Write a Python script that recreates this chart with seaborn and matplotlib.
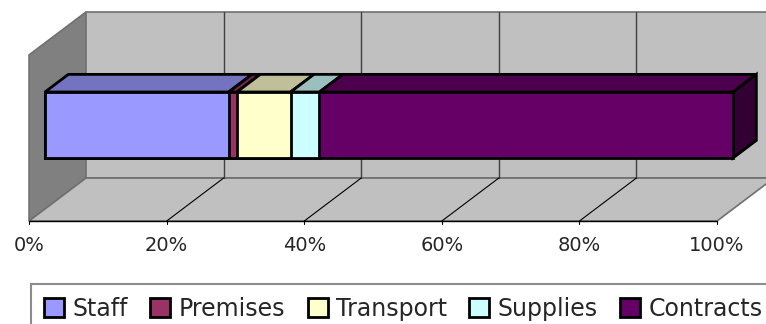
import matplotlib
matplotlib.use("Agg")
import matplotlib.pyplot as plt
import matplotlib.colors as mcolors
from matplotlib.patches import Polygon, Patch
import pandas as pd
import seaborn as sns

categories = ["Staff", "Premises", "Transport", "Supplies", "Contracts"]
shares = [26.7, 1.2, 7.8, 4.2, 60.1]
colors = ["#9999ff", "#993366", "#ffffcc", "#ccffff", "#660066"]
tick_values = [0, 20, 40, 60, 80, 100]
tick_labels = ["0%", "20%", "40%", "60%", "80%", "100%"]

# oblique projection: x in %, y in bar units, depth 0..1 across the box
DX, DY = 8.28, -0.521
B0, B1 = 0.28, 0.69        # bar front / back depth
FLOOR, TOP = 1.018, -0.995


def proj(x, y, d):
    return (x + (d - B0) * DX, y + (d - B0) * DY)


def shade(c, f):
    r, g, b = mcolors.to_rgb(c)
    return (r * f, g * f, b * f)


def face(ax, pts, fc, ec="#707070", lw=1.2, z=0):
    ax.add_patch(Polygon(pts, closed=True, facecolor=fc, edgecolor=ec, lw=lw, zorder=z))


df = pd.DataFrame({"category": categories, "share": shares, "color": colors})
df["pct"] = df["share"] / df["share"].sum() * 100
df["end"] = df["pct"].cumsum()
df["start"] = df["end"] - df["pct"]

sns.set_style("white")
plt.rcParams["font.family"] = ["DejaVu Sans"]

fig = plt.figure(figsize=(7.66, 3.24), dpi=100)
ax = fig.add_axes([0, 0, 1, 1])

# walls and floor
face(ax, [proj(0, FLOOR, 0), proj(0, TOP, 0), proj(0, TOP, 1), proj(0, FLOOR, 1)], "#808080")
face(ax, [proj(0, FLOOR, 1), proj(0, TOP, 1), proj(100, TOP, 1), proj(100, FLOOR, 1)], "#c0c0c0")
face(ax, [proj(0, FLOOR, 0), proj(100, FLOOR, 0), proj(100, FLOOR, 1), proj(0, FLOOR, 1)], "#c0c0c0")

for v in tick_values[1:]:
    x0, y0 = proj(v, FLOOR, 1)
    x1, y1 = proj(v, TOP, 1)
    ax.plot([x0, x1], [y0, y1], color="#404040", lw=1, zorder=0.5)
for v in tick_values[1:-1]:
    x0, y0 = proj(v, FLOOR, 0)
    x1, y1 = proj(v, FLOOR, 1)
    ax.plot([x0, x1], [y0, y1], color="black", lw=0.8, zorder=0.5)

# front edge of the floor with tick labels
fx0, fy = proj(0, FLOOR, 0)
fx1, _ = proj(100, FLOOR, 0)
ax.plot([fx0, fx1], [fy, fy], color="black", lw=1, zorder=0.6)
for v, lab in zip(tick_values, tick_labels):
    x, y = proj(v, FLOOR, 0)
    ax.plot([x, x], [y, y + 0.04], color="black", lw=0.8)
    ax.text(x, y + 0.3, lab, ha="center", va="center", fontsize=14)

# front faces: cumulative bars drawn back to front
for _, row in df.iloc[::-1].iterrows():
    sns.barplot(x=[row["end"]], y=["Costs"], orient="h", color=row["color"],
                saturation=1, width=0.8, edgecolor="black", linewidth=2, ax=ax, zorder=2)

# top faces and end cap
for _, row in df.iterrows():
    pts = [proj(row["start"], -0.4, B0), proj(row["end"], -0.4, B0),
           proj(row["end"], -0.4, B1), proj(row["start"], -0.4, B1)]
    face(ax, pts, shade(row["color"], 0.75), ec="black", lw=2, z=1.5)
last = df.iloc[-1]
face(ax, [proj(100, -0.4, B0), proj(100, 0.4, B0), proj(100, 0.4, B1), proj(100, -0.4, B1)],
     shade(last["color"], 0.5), ec="black", lw=2, z=1.5)

ax.set_xlim(-6.54, 104.8)
ax.set_ylim(2.412, -1.515)
ax.axis("off")

handles = [Patch(facecolor=c, edgecolor="black", lw=2) for c in colors]
leg = fig.legend(handles, categories, loc="upper left", bbox_to_anchor=(31 / 766, 1 - 284 / 324),
                 ncol=5, fontsize=17, frameon=True, fancybox=False, edgecolor="#707070",
                 borderaxespad=0, borderpad=0.55, handlelength=0.85, handleheight=0.85,
                 handletextpad=0.35, columnspacing=0.95)
leg.get_frame().set_linewidth(1.5)

fig.savefig("out.png", dpi=100)
